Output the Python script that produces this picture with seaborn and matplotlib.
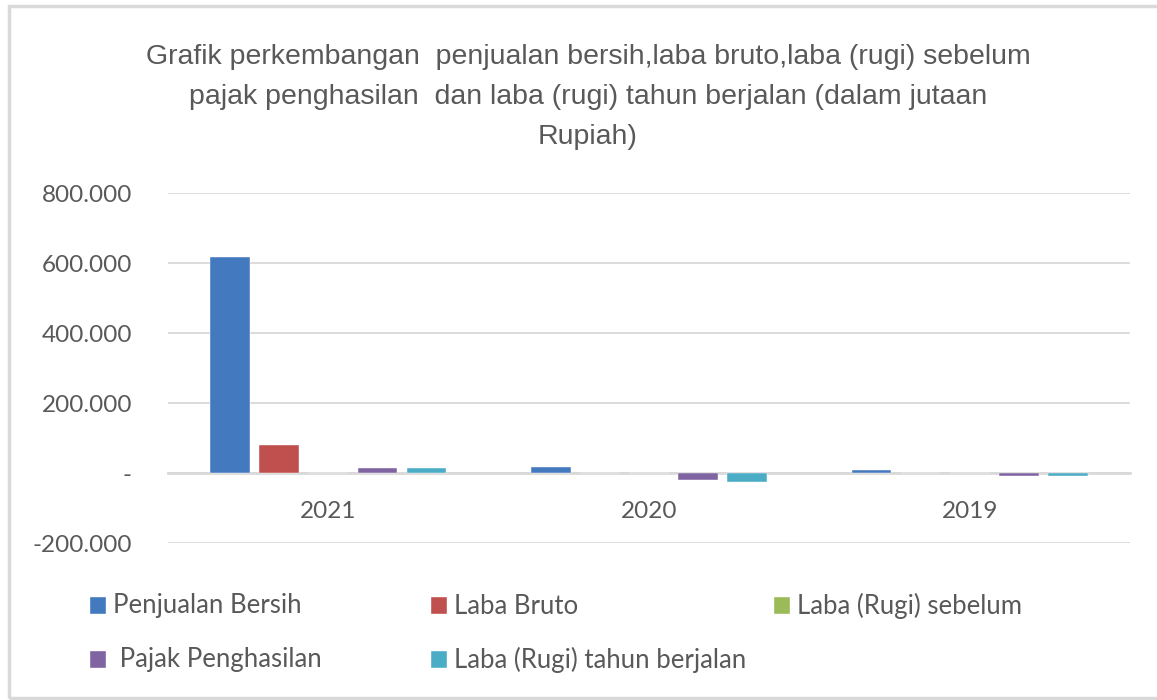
import pandas as pd
import seaborn as sns
import matplotlib.pyplot as plt
from matplotlib.patches import Patch, Rectangle
from matplotlib.ticker import FuncFormatter

# data (dalam jutaan Rupiah)
years = ["2021", "2020", "2019"]
penjualan_bersih = [617000, 17000, 10000]
laba_bruto = [80000, 0, 0]
laba_sebelum = [0, 0, 0]
pajak_penghasilan = [13000, -19000, -8000]
laba_tahun_berjalan = [13000, -25000, -8000]

series_names = ["Penjualan Bersih", "Laba Bruto", "Laba (Rugi) sebelum",
                " Pajak Penghasilan", "Laba (Rugi) tahun berjalan"]
colors = ["#4379BE", "#C0504D", "#9BBB59", "#8064A2", "#4BACC6"]

rows = []
for name, vals in zip(series_names, [penjualan_bersih, laba_bruto, laba_sebelum,
                                     pajak_penghasilan, laba_tahun_berjalan]):
    for yr, v in zip(years, vals):
        rows.append({"tahun": yr, "seri": name, "nilai": v})
df = pd.DataFrame(rows)

sns.set_style("white")
plt.rcParams["font.family"] = ["Lato", "DejaVu Sans"]

W, H = 1157, 700
fig = plt.figure(figsize=(W / 100, H / 100), dpi=100)
ax = fig.add_axes([168 / W, 1 - 543 / H, 962 / W, 350 / H])

sns.barplot(data=df, x="tahun", y="nilai", hue="seri", order=years,
            hue_order=series_names, palette=colors, width=0.766, gap=0.19,
            saturation=1, edgecolor="white", linewidth=0.3, legend=False,
            zorder=3, ax=ax)

ax.set_ylim(-200000, 800000)
ax.set_xlim(-0.5, 2.5)
ax.set_yticks([-200000, 0, 200000, 400000, 600000, 800000])
ax.yaxis.set_major_formatter(FuncFormatter(
    lambda v, p: "-" if v == 0 else f"{v:,.0f}".replace(",", ".")))
ax.grid(axis="y", color="#D9D9D9", linewidth=1.3)
ax.set_axisbelow(True)
for s in ["top", "right", "left"]:
    ax.spines[s].set_visible(False)
ax.spines["bottom"].set_position(("data", 0))
ax.spines["bottom"].set_color("#D9D9D9")
ax.spines["bottom"].set_linewidth(2)
ax.spines["bottom"].set_zorder(2)
ax.tick_params(axis="x", length=0, pad=20, labelsize=17.5, labelcolor="#595959")
ax.tick_params(axis="y", length=0, pad=26, labelsize=17.5, labelcolor="#595959")
ax.set_xlabel("")
ax.set_ylabel("")

title = ("Grafik perkembangan  penjualan bersih,laba bruto,laba (rugi) sebelum\n"
         "pajak penghasilan  dan laba (rugi) tahun berjalan (dalam jutaan\n"
         "Rupiah)")
fig.text(588 / W, 1 - 97 / H, title, ha="center", va="center", fontsize=20.5,
         color="#595959", family="Liberation Sans", linespacing=1.7)

# legend entries laid out like the Excel grid
legend_pos = [(89, 606), (430, 606), (773, 606), (89, 660), (430, 660)]
for name, col, (x, y) in zip(series_names, colors, legend_pos):
    fig.legend(handles=[Patch(facecolor=col)], labels=[name],
               loc="center left", bbox_to_anchor=(x / W, 1 - y / H),
               frameon=False, fontsize=18.5, labelcolor="#595959",
               handlelength=0.65, handleheight=0.7, handletextpad=0.28,
               borderpad=0, borderaxespad=0)

# outer chart border
fig.patches.append(Rectangle((9 / W, 2 / H), 1.2, 1 - 8 / H, transform=fig.transFigure,
                             fill=False, edgecolor="#D9D9D9", linewidth=2.5))

fig.savefig("out.png", dpi=100, facecolor="white")
